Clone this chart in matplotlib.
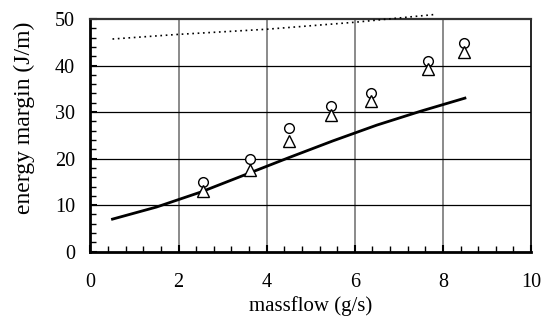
import numpy as np
import matplotlib.pyplot as plt
from matplotlib.ticker import MultipleLocator

# ///---- datos ----///
# curva calculada (linea llena)
x_calc = [0.5, 1.5, 2.5, 3.5, 4.5, 5.5, 6.5, 7.5, 8.5]
y_calc = [7.0, 9.6, 12.8, 16.5, 20.2, 23.8, 27.2, 30.2, 33.0]

# curva punteada (se sale por arriba del eje)
x_dot = [0.5, 2.0, 4.0, 6.0, 7.85]
y_dot = [45.7, 46.7, 47.8, 49.3, 51.0]

# mediciones
x_med = [2.55, 3.61, 4.5, 5.47, 6.37, 7.66, 8.47]
y_circ = [15.0, 19.85, 26.5, 31.2, 34.0, 41.0, 44.8]
y_tri = [13.0, 17.5, 23.7, 29.4, 32.3, 39.2, 42.9]

plt.rcParams['font.family'] = ['Liberation Serif', 'DejaVu Serif']

fig = plt.figure(figsize=(5.51, 3.21), dpi=100)
ax = fig.add_axes([0.1642, 0.2159, 0.7995, 0.7249])

# grilla
for xv in [2, 4, 6, 8]:
    ax.axvline(xv, color='#777777', lw=1.2, zorder=1)
for yv in [10, 20, 30, 40]:
    ax.axhline(yv, color='black', lw=0.9, zorder=1)

ax.plot(x_calc, y_calc, color='black', lw=2.0, zorder=3)
ax.plot(x_dot, y_dot, color='black', lw=1.2, ls=(0, (1.0, 2.2)),
        clip_on=False, zorder=3)
ax.plot(x_med, y_circ, 'o', ms=7, mfc='white', mec='black', mew=1.0,
        zorder=4)
ax.plot(x_med, y_tri, '^', ms=8, mfc='white', mec='black', mew=1.0,
        zorder=4)

ax.set_xlim(0, 10)
ax.set_ylim(0, 50)
ax.xaxis.set_major_locator(MultipleLocator(2))
ax.xaxis.set_minor_locator(MultipleLocator(0.4))
ax.yaxis.set_major_locator(MultipleLocator(10))
ax.yaxis.set_minor_locator(MultipleLocator(2))
ax.tick_params(which='both', direction='in', top=False, right=False,
               labelsize=14.5)
ax.tick_params(which='major', length=5, width=1.5)
ax.tick_params(which='minor', length=4, width=1.0)
ax.tick_params(axis='x', pad=15)
ax.tick_params(axis='y', pad=11)

for lado in ['left', 'bottom']:
    ax.spines[lado].set_linewidth(2.0)
ax.spines['top'].set_linewidth(1.6)
ax.spines['top'].set_color('#333333')
ax.spines['right'].set_linewidth(1.2)

ax.set_xlabel('massflow (g/s)', fontsize=15, labelpad=3)
ax.set_ylabel('energy margin (J/m)', fontsize=17, va='center')
ax.yaxis.set_label_coords(-0.151, 0.575)

fig.savefig('out.png', dpi=100)
